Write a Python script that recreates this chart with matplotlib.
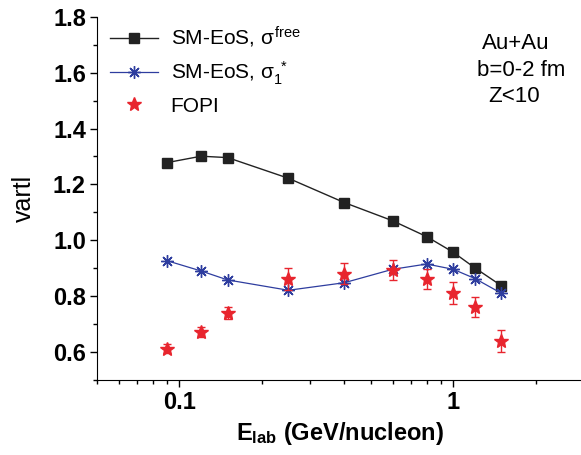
import matplotlib.pyplot as plt
from matplotlib.ticker import FixedLocator, NullFormatter

plt.rcParams['font.family'] = ['Liberation Sans', 'DejaVu Sans']
plt.rcParams['mathtext.fontset'] = 'custom'
plt.rcParams['mathtext.rm'] = 'Liberation Sans'
plt.rcParams['mathtext.it'] = 'Liberation Sans'
plt.rcParams['mathtext.bf'] = 'Liberation Sans:bold'

# beam energies (GeV/nucleon)
energy = [0.09, 0.12, 0.15, 0.25, 0.4, 0.6, 0.8, 1.0, 1.2, 1.5]

# SM-EoS with free cross section
vartl_free = [1.278, 1.301, 1.296, 1.222, 1.135, 1.070, 1.013, 0.957, 0.901, 0.837]
# SM-EoS with in-medium cross section sigma_1*
vartl_med = [0.927, 0.890, 0.858, 0.821, 0.848, 0.896, 0.915, 0.896, 0.863, 0.810]
# FOPI data
vartl_fopi = [0.611, 0.670, 0.740, 0.861, 0.881, 0.893, 0.861, 0.812, 0.762, 0.640]
fopi_err = [0.016, 0.018, 0.021, 0.040, 0.036, 0.037, 0.036, 0.039, 0.036, 0.039]

yticks = [0.6, 0.8, 1.0, 1.2, 1.4, 1.6, 1.8]
ytick_labels = ['0.6', '0.8', '1.0', '1.2', '1.4', '1.6', '1.8']

fig = plt.figure(figsize=(5.81, 4.55), dpi=100)
ax = fig.add_axes([0.167, 0.165, 0.838, 0.798])

l_free, = ax.plot(energy, vartl_free, c='#222222', ls='-', lw=1.0, marker='s', ms=7)
l_med, = ax.plot(energy, vartl_med, c='#2e3d9f', ls='-', lw=0.9, marker=(8, 2, 0), ms=9,
                 mew=1.0)
eb = ax.errorbar(energy, vartl_fopi, yerr=fopi_err, fmt='*', c='#e8252e', ms=10,
                 elinewidth=1.0, capsize=3, capthick=1.0)

ax.set_xscale('log')
ax.set_xlim(0.05, 3)
ax.set_ylim(0.5, 1.8)

ax.xaxis.set_major_locator(FixedLocator([0.1, 1]))
ax.xaxis.set_minor_locator(FixedLocator([0.05, 0.06, 0.07, 0.08, 0.09, 0.2, 0.3, 0.4,
                                         0.5, 0.6, 0.7, 0.8, 0.9, 2, 3]))
ax.xaxis.set_minor_formatter(NullFormatter())
ax.set_xticklabels(['0.1', '1'])
ax.set_yticks(yticks)
ax.set_yticks([0.5, 0.7, 0.9, 1.1, 1.3, 1.5, 1.7], minor=True)
ax.set_yticklabels(ytick_labels)

ax.spines['top'].set_visible(False)
ax.spines['right'].set_visible(False)
ax.tick_params(which='major', direction='out', length=5, width=1, labelsize=17, pad=3)
ax.tick_params(which='minor', direction='out', length=3, width=1)
for lbl in ax.get_xticklabels() + ax.get_yticklabels():
    lbl.set_fontweight('bold')

ax.set_xlabel(r'E$_{\mathbf{lab}}$ (GeV/nucleon)', fontsize=17, fontweight='bold', labelpad=4)
ax.set_ylabel('vartl', fontsize=18, labelpad=12)

# legend shows only the star for the data, no error bar
ax.legend([l_free, l_med, eb[0]],
          [r'SM-EoS, $\sigma^{\mathrm{free}}$', r'SM-EoS, $\sigma_1^{\ *}$', 'FOPI'],
          loc='upper left', frameon=False, fontsize=15, handlelength=2.3,
          borderaxespad=0.0, labelspacing=0.45, handletextpad=0.6,
          bbox_to_anchor=(0.01, 1.0))

fig.text(482 / 581, 0.905, 'Au+Au', fontsize=16, va='center')
fig.text(477 / 581, 0.846, 'b=0-2 fm', fontsize=16, va='center')
fig.text(488 / 581, 0.787, 'Z<10', fontsize=16, va='center')

plt.savefig('out.png', dpi=100)
